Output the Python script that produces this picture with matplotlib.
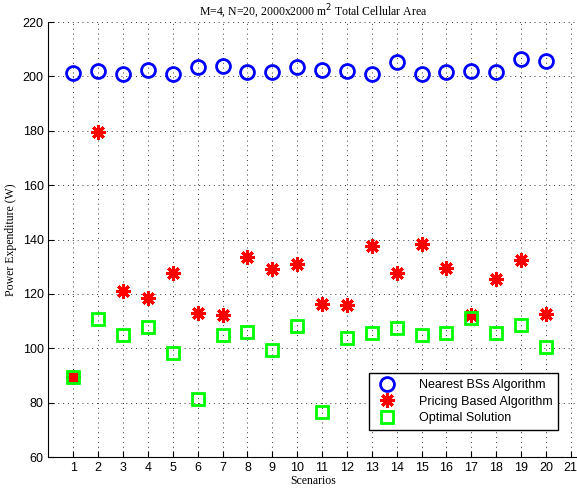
import numpy as np
import matplotlib.pyplot as plt

scenarios = list(range(1, 21))
nearest = [201.1, 202.0, 201.0, 202.5, 201.0, 203.6, 203.7, 201.7, 201.7, 203.5,
           202.3, 202.0, 200.9, 205.3, 200.9, 201.6, 202.0, 201.7, 206.4, 205.7]
pricing = [89.3, 179.7, 120.9, 118.6, 127.6, 113.1, 112.3, 133.7, 129.2, 131.0,
           116.3, 116.0, 137.6, 127.6, 138.4, 129.4, 112.3, 125.5, 132.5, 112.6]
optimal = [89.3, 110.7, 104.7, 107.7, 98.2, 81.5, 104.8, 105.9, 99.3, 108.3,
           76.7, 103.8, 105.5, 107.4, 104.9, 105.5, 111.1, 105.5, 108.6, 100.3]
labels = ['Nearest BSs Algorithm', 'Pricing Based Algorithm', 'Optimal Solution']

serif = ['Liberation Serif', 'DejaVu Serif']
sans = ['Liberation Sans', 'DejaVu Sans']

fig = plt.figure(figsize=(5.77, 4.96), dpi=100)
ax = fig.add_axes([0.084, 0.0786, 0.916, 0.877])

ax.plot(scenarios, nearest, linestyle='none', marker='o', markersize=10,
        markerfacecolor='none', markeredgecolor='#0000ff', markeredgewidth=2, label=labels[0])
ax.plot(scenarios, pricing, linestyle='none', marker=(8, 2, 0), markersize=10.5,
        markeredgecolor='#ff0000', markeredgewidth=2.2, label=labels[1])
ax.plot(scenarios, optimal, linestyle='none', marker='s', markersize=9,
        markerfacecolor='none', markeredgecolor='#00ff00', markeredgewidth=2, label=labels[2])

ax.set_xlim(0, 21.25)
ax.set_ylim(60, 220)
ax.set_xticks(range(1, 22))
ax.set_yticks(range(60, 221, 20))
ax.grid(True, linestyle=(0, (1, 4)), color='#333333', linewidth=0.7)
ax.tick_params(direction='in', length=4, labelsize=9)
for t in ax.get_xticklabels() + ax.get_yticklabels():
    t.set_family(sans)
ax.spines['top'].set_visible(False)
ax.spines['right'].set_visible(False)

ax.set_title('M=4, N=20, 2000x2000 m$^2$ Total Cellular Area', fontsize=8.5,
             family=serif, pad=4)
ax.set_xlabel('Scenarios', fontsize=8.5, family=serif, labelpad=1)
ax.set_ylabel('Power Expenditure (W)', fontsize=8.5, family=serif, labelpad=4)

leg = ax.legend(loc='lower right', bbox_to_anchor=(0.964, 0.062), borderaxespad=0,
                fancybox=False, edgecolor='black', framealpha=1,
                prop={'family': sans, 'size': 9},
                borderpad=0.45, labelspacing=0.38, handletextpad=1.5)
leg.get_frame().set_linewidth(1.0)

fig.savefig('out.png', dpi=100)
